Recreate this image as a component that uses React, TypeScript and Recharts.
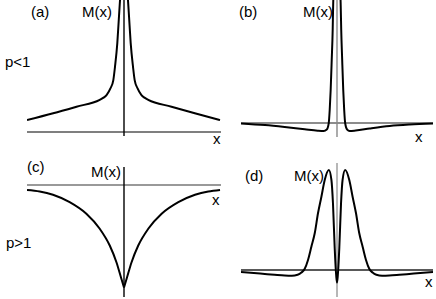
import React from 'react';
import { LineChart, Line, XAxis, YAxis, ReferenceLine } from 'recharts';

// (a) p<1 : M(x) diverges at the origin, two branches
const aLeftX = [-1, -0.73, -0.49, -0.25, -0.211, -0.18, -0.14, -0.11, -0.093, -0.069, -0.052, -0.041, -0.031];
const aLeftM = [0.27, 0.425, 0.575, 0.73, 0.78, 0.84, 0.99, 1.18, 1.48, 2.02, 2.62, 3.0, 3.27];
const aRightX = [0.031, 0.041, 0.052, 0.069, 0.093, 0.11, 0.14, 0.18, 0.211, 0.25, 0.49, 0.73, 0.99];
const aRightM = [3.27, 3.0, 2.62, 2.02, 1.48, 1.18, 0.99, 0.84, 0.78, 0.73, 0.575, 0.425, 0.27];

// (b) narrow spike with small negative wings
const bX = [-1, -0.75, -0.545, -0.336, -0.201, -0.139, -0.107, -0.086, -0.076, -0.066, -0.055, -0.045, -0.04, -0.034,
  0.033, 0.0385, 0.044, 0.054, 0.065, 0.075, 0.085, 0.106, 0.132, 0.195, 0.341, 0.549, 0.757, 1];
const bM = [-0.01, -0.05, -0.098, -0.154, -0.188, -0.195, -0.159, 0, 0.317, 0.805, 1.54, 2.27, 2.88, 3.24,
  3.24, 2.88, 2.27, 1.54, 0.805, 0.317, 0, -0.159, -0.195, -0.183, -0.134, -0.073, -0.037, -0.01];

// (c) p>1 : cusp pointing down
const cLeftX = [-1, -0.869, -0.732, -0.56, -0.388, -0.25, -0.147, -0.078, -0.027, 0];
const cLeftM = [-0.05, -0.065, -0.098, -0.172, -0.288, -0.438, -0.605, -0.772, -0.938, -1.025];
const cRightX = [0, 0.027, 0.078, 0.147, 0.25, 0.388, 0.56, 0.732, 0.869, 0.99];
const cRightM = [-1.025, -0.938, -0.772, -0.605, -0.438, -0.288, -0.172, -0.098, -0.065, -0.05];

// (d) double peak with a dip at the origin
const dX = [-1, -0.8, -0.65, -0.545, -0.47, -0.41, -0.371, -0.336, -0.302, -0.267, -0.232, -0.198, -0.1625, -0.128, -0.085,
  -0.058, -0.042, -0.024, -0.008, 0, 0.008, 0.024, 0.042, 0.058,
  0.085, 0.128, 0.1625, 0.198, 0.232, 0.267, 0.302, 0.336, 0.371, 0.41, 0.47, 0.545, 0.65, 0.8, 1];
const dM = [-0.02, -0.035, -0.048, -0.056, -0.058, -0.048, -0.026, 0.012, 0.1, 0.233, 0.367, 0.567, 0.733, 0.9, 1.0,
  0.9, 0.667, 0.22, -0.06, -0.125, -0.06, 0.22, 0.667, 0.9,
  1.0, 0.9, 0.733, 0.567, 0.367, 0.233, 0.1, 0.012, -0.026, -0.048, -0.058, -0.056, -0.048, -0.035, -0.02];

const panelTags = ['(a)', '(b)', '(c)', '(d)'];
const regimes = ['p<1', 'p>1'];
const yLabel = 'M(x)';
const xLabel = 'x';

const pts = (xs: number[], ms: number[]) => xs.map((x, i) => ({ x, m: ms[i] }));

type PanelProps = {
  left: number;
  top: number;
  width: number;
  height: number;
  yDomain: [number, number];
  series: { x: number; m: number }[][];
  hColor: string;
  vColor: string;
};

function Panel({ left, top, width, height, yDomain, series, hColor, vColor }: PanelProps) {
  return (
    <div style={{ position: 'absolute', left, top }}>
      <LineChart width={width} height={height} margin={{ top: 0, right: 0, bottom: 0, left: 0 }}>
        <XAxis type="number" dataKey="x" domain={[-1, 1]} hide allowDataOverflow />
        <YAxis type="number" domain={yDomain} hide allowDataOverflow />
        <ReferenceLine y={0} stroke={hColor} strokeWidth={1.4} />
        <ReferenceLine x={0} stroke={vColor} strokeWidth={1.4} />
        {series.map((d, i) => (
          <Line
            key={i}
            data={d}
            dataKey="m"
            type="monotone"
            stroke="#000"
            strokeWidth={2}
            dot={false}
            isAnimationActive={false}
          />
        ))}
      </LineChart>
    </div>
  );
}

const font = { fontFamily: '"Liberation Sans", Arial, sans-serif', fontSize: 15, fill: '#000' };

export default function App() {
  return (
    <div style={{ position: 'fixed', left: 0, top: 0, width: 436, height: 299, background: '#fff', overflow: 'hidden' }}>
      <Panel left={27.3} top={0} width={194} height={136.4} yDomain={[-0.1, 3]}
        series={[pts(aLeftX, aLeftM), pts(aRightX, aRightM)]} hColor="#555" vColor="#000" />
      <Panel left={241.3} top={0} width={192} height={137.4} yDomain={[-0.35, 3]}
        series={[pts(bX, bM)]} hColor="#666" vColor="#888" />
      <Panel left={27.3} top={166.5} width={194} height={130.5} yDomain={[-1.125, 0.18]}
        series={[pts(cLeftX, cLeftM), pts(cRightX, cRightM)]} hColor="#777" vColor="#000" />
      <Panel left={240.7} top={163} width={192} height={134} yDomain={[-0.27, 1.07]}
        series={[pts(dX, dM)]} hColor="#222" vColor="#999" />
      <svg width={436} height={299} style={{ position: 'absolute', left: 0, top: 0, pointerEvents: 'none' }}>
        <text x={31} y={17} {...font}>{panelTags[0]}</text>
        <text x={82} y={17} {...font}>{yLabel}</text>
        <text x={5} y={67} {...font}>{regimes[0]}</text>
        <text x={213} y={144} {...font}>{xLabel}</text>

        <text x={239} y={17} {...font}>{panelTags[1]}</text>
        <text x={303} y={17} {...font}>{yLabel}</text>
        <text x={415} y={142} {...font}>{xLabel}</text>

        <text x={27} y={172} {...font}>{panelTags[2]}</text>
        <text x={91} y={177} {...font}>{yLabel}</text>
        <text x={212} y={205} {...font}>{xLabel}</text>
        <text x={6} y={248} {...font}>{regimes[1]}</text>

        <text x={245} y={181} {...font}>{panelTags[3]}</text>
        <text x={294} y={181} {...font}>{yLabel}</text>
        <text x={425} y={287} {...font}>{xLabel}</text>
      </svg>
    </div>
  );
}
